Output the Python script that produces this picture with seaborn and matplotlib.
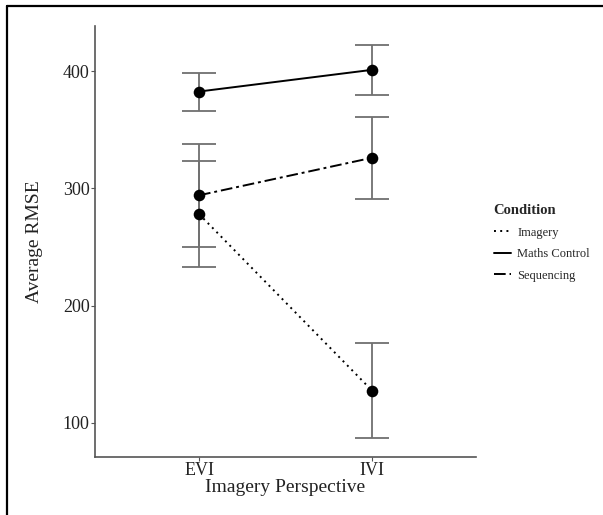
import numpy as np
import pandas as pd
import matplotlib
matplotlib.use("Agg")
import matplotlib.pyplot as plt
from matplotlib.lines import Line2D
import seaborn as sns

# -----------------------------
# data
# -----------------------------
perspective = ["EVI", "IVI"]
conditions = ["Imagery", "Maths Control", "Sequencing"]

imagery_mean = [278, 127.5]
imagery_lo = [233, 87]
imagery_hi = [323, 168]

maths_mean = [382.5, 401]
maths_lo = [366, 379.5]
maths_hi = [398.5, 422]

seq_mean = [294, 326]
seq_lo = [250, 291]
seq_hi = [338, 361]

df = pd.DataFrame({
    "Perspective": perspective * 3,
    "Condition": np.repeat(conditions, 2),
    "RMSE": imagery_mean + maths_mean + seq_mean,
    "lo": imagery_lo + maths_lo + seq_lo,
    "hi": imagery_hi + maths_hi + seq_hi,
})

styles = {"Imagery": (0, (1, 2.2)), "Maths Control": "-", "Sequencing": (0, (6, 2, 1.5, 2))}

sns.set_style("white")
plt.rcParams["font.family"] = ["Liberation Serif", "DejaVu Serif"]

fig = plt.figure(figsize=(6.03, 5.15), dpi=100)
ax = fig.add_axes([0.158, 0.113, 0.631, 0.837])

# error bars (behind)
xpos = {p: i for i, p in enumerate(perspective)}
for _, r in df.iterrows():
    x = xpos[r["Perspective"]]
    ax.errorbar(x, r["RMSE"], yerr=[[r["RMSE"] - r["lo"]], [r["hi"] - r["RMSE"]]],
                fmt="none", ecolor="#707070", elinewidth=1.3, capsize=12.5, capthick=1.3, zorder=1)

# means + lines
for cond in conditions:
    sub = df[df["Condition"] == cond]
    sns.lineplot(data=sub, x="Perspective", y="RMSE", ax=ax, color="black",
                 linestyle=styles[cond], linewidth=1.4, sort=False, zorder=2)
    sns.scatterplot(data=sub, x="Perspective", y="RMSE", ax=ax, color="black",
                    s=70, edgecolor="black", linewidth=0, zorder=3)

ax.set_xlim(-0.6, 1.6)
ax.set_ylim(71, 438.6)
ax.set_yticks([100, 200, 300, 400])
ax.set_xlabel("Imagery Perspective", fontsize=14, labelpad=0, color="#222222")
ax.set_ylabel("Average RMSE", fontsize=14, labelpad=14, color="#222222")
ax.tick_params(axis="both", labelsize=13, length=3, width=0.8, color="#555555",
               labelcolor="#222222", direction="out", pad=1, bottom=True, left=True)
sns.despine(ax=ax)
for s in ["left", "bottom"]:
    ax.spines[s].set_color("#555555")
    ax.spines[s].set_linewidth(1.2)

handles = [Line2D([0], [0], color="black", linestyle=styles[c], linewidth=1.4) for c in conditions]
leg = fig.legend(handles, conditions, title="Condition", loc="upper left",
                 bbox_to_anchor=(0.80, 0.625), frameon=False, fontsize=9,
                 title_fontproperties={"weight": "bold", "size": 10.5},
                 handlelength=1.4, handletextpad=0.5, labelspacing=0.75)
leg._legend_box.align = "left"

# outer frame lines (top and left)
fig.add_artist(Line2D([7 / 603, 1], [1 - 5.5 / 515, 1 - 5.5 / 515], color="black", linewidth=1.6))
fig.add_artist(Line2D([7 / 603, 7 / 603], [0, 1 - 5.5 / 515], color="black", linewidth=1.6))

fig.savefig("out.png", dpi=100)
